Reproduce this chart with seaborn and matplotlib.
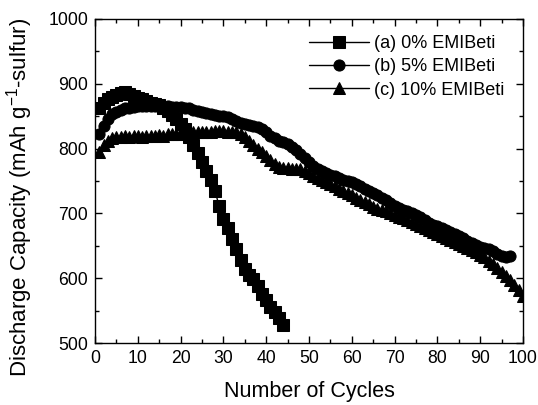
import numpy as np
import pandas as pd
import matplotlib
matplotlib.use("Agg")
import matplotlib.pyplot as plt
from matplotlib.ticker import MultipleLocator
import seaborn as sns

cycles_a = list(range(1, 45))
cap_a = [862, 870, 876, 880, 883, 886, 887, 885, 881, 878, 876, 873, 871, 869, 867,
         862, 858, 852, 845, 838, 830, 818, 805, 793, 780, 765, 752, 735, 712, 692,
         677, 660, 645, 628, 614, 605, 598, 588, 576, 566, 556, 548, 538, 528]

cycles_b = list(range(1, 98))
cap_b = [822, 835, 845, 853, 857, 860, 862, 863, 864, 866, 866, 865, 866, 866, 865,
         865, 865, 864, 864, 864, 863, 862, 860, 858, 856, 855, 853, 852, 851, 850,
         848, 846, 843, 840, 838, 837, 835, 833, 830, 825, 820, 816, 812, 810, 807,
         803, 798, 792, 786, 780, 773, 768, 765, 762, 760, 757, 755, 752, 750, 748,
         746, 742, 738, 735, 732, 728, 724, 720, 716, 712, 708, 705, 703, 700, 698,
         694, 690, 685, 682, 680, 678, 675, 672, 668, 665, 662, 658, 655, 652, 648,
         646, 645, 642, 638, 634, 633, 635]

cycles_c = list(range(1, 101))
cap_c = [795, 805, 812, 816, 818, 818, 819, 818, 820, 819, 818, 819, 820, 819, 821,
         820, 822, 822, 823, 823, 824, 824, 825, 825, 826, 826, 826, 827, 827, 827,
         826, 826, 825, 822, 818, 812, 806, 800, 794, 788, 782, 776, 772, 770, 770,
         769, 769, 768, 766, 762, 758, 755, 752, 748, 745, 742, 738, 735, 731, 728,
         724, 721, 718, 714, 710, 707, 705, 703, 700, 698, 695, 693, 690, 687, 684,
         680, 677, 674, 671, 668, 665, 662, 659, 656, 653, 650, 647, 644, 640, 636,
         632, 627, 622, 616, 610, 604, 597, 590, 582, 572]

labels = ["(a) 0% EMIBeti", "(b) 5% EMIBeti", "(c) 10% EMIBeti"]
markers = ["s", "o", "^"]

sns.set_style("ticks")
plt.rcParams['font.family'] = ['Liberation Sans', 'DejaVu Sans']
plt.rcParams['mathtext.fontset'] = 'custom'
plt.rcParams['mathtext.rm'] = 'Liberation Sans'
plt.rcParams['mathtext.it'] = 'Liberation Sans:italic'
plt.rcParams['text.color'] = 'black'
plt.rcParams['axes.labelcolor'] = 'black'
plt.rcParams['xtick.color'] = 'black'
plt.rcParams['ytick.color'] = 'black'

fig = plt.figure(figsize=(5.38, 4.05), dpi=100)
ax = fig.add_axes([95/538, 1-343/405, (523-95)/538, (343-19)/405])

for cyc, cap, lab, mk in zip([cycles_a, cycles_b, cycles_c], [cap_a, cap_b, cap_c], labels, markers):
    df = pd.DataFrame({"cycle": cyc, "cap": cap})
    sns.lineplot(data=df, x="cycle", y="cap", ax=ax, color="black", linewidth=1,
                 marker=mk, markersize=8, markeredgecolor="black",
                 markerfacecolor="black", label=lab, clip_on=True)

ax.set_xlim(0, 100)
ax.set_ylim(500, 1000)
ax.xaxis.set_major_locator(MultipleLocator(10))
ax.xaxis.set_minor_locator(MultipleLocator(5))
ax.yaxis.set_major_locator(MultipleLocator(100))
ax.yaxis.set_minor_locator(MultipleLocator(50))
ax.tick_params(which="both", direction="in", top=True, right=True, labelsize=12.7,
               width=1, color="black", labelcolor="black")
ax.tick_params(which="major", length=5, pad=5)
ax.tick_params(which="minor", length=3)
for s in ax.spines.values():
    s.set_linewidth(1)
    s.set_color("black")

ax.set_xlabel("Number of Cycles", fontsize=15.5, labelpad=10, color="black")
ax.set_ylabel("Discharge Capacity (mAh g$^{-1}$-sulfur)", fontsize=16, color="black")
ax.yaxis.set_label_coords(-0.14, 0.45)

leg = ax.legend(loc="upper right", frameon=False, fontsize=13, handlelength=3.3,
                handletextpad=0.25, labelspacing=0.35, borderaxespad=0.3,
                bbox_to_anchor=(0.985, 0.99), markerscale=1.0)
for t in leg.get_texts():
    t.set_color("black")

fig.savefig("out.png", dpi=100)
